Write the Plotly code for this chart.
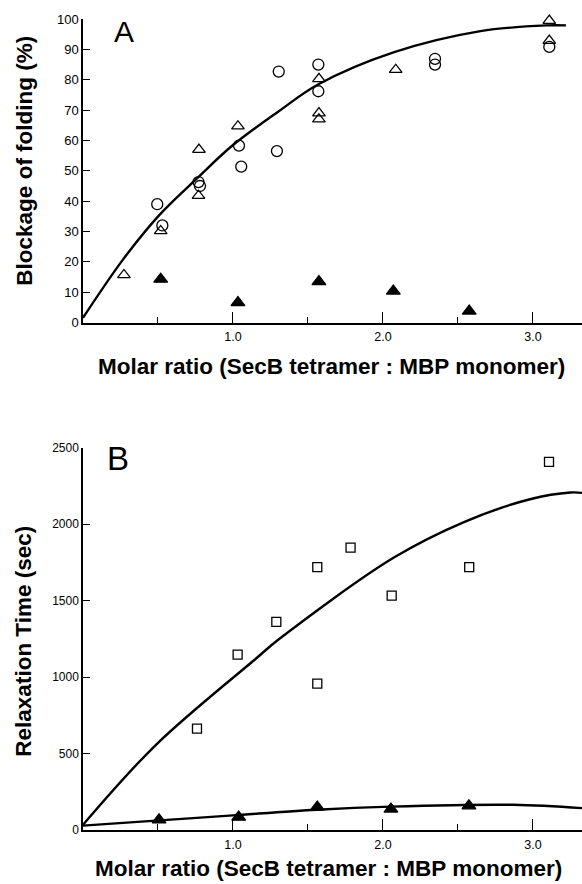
import plotly.graph_objects as go

# ---------------- data ----------------
# Panel A
a_circle_x = [0.495, 0.529, 0.77, 0.78, 1.04, 1.055, 1.293, 1.305, 1.569, 1.569, 2.347, 2.347, 3.109, 3.109]
a_circle_y = [39, 32, 46.3, 45, 58.3, 51.4, 56.5, 82.7, 85, 76.2, 86.9, 85, 101.5, 90.8]
a_tri_x = [0.273, 0.518, 0.77, 0.773, 1.033, 1.573, 1.573, 1.573, 2.085, 3.109, 3.109]
a_tri_y = [15.7, 30.2, 41.8, 57, 64.7, 80.3, 69, 67, 83.3, 92.9, 99.5]
a_filled_x = [0.518, 1.033, 1.573, 2.069, 2.575]
a_filled_y = [14.3, 6.6, 13.5, 10.4, 3.8]
a_fit_x = [0, 0.27, 0.51, 0.76, 1.0, 1.31, 1.57, 2.07, 2.65, 3.09, 3.22]
a_fit_y = [1.6, 21, 35.5, 47.5, 58.5, 69.8, 78.5, 89, 96, 97.9, 97.9]

# Panel B
b_square_x = [0.76, 1.031, 1.289, 1.562, 1.562, 1.784, 2.058, 2.575, 3.107]
b_square_y = [662, 1147, 1361, 1719, 957, 1846, 1533, 1719, 2407]
b_filled_x = [0.507, 1.038, 1.562, 2.053, 2.573]
b_filled_y = [66, 83, 149, 136, 157]
b_fit_hi_x = [0, 0.49, 1.15, 1.31, 2.07, 2.54, 2.98, 3.25, 3.327]
b_fit_hi_y = [33, 560, 1118, 1250, 1780, 2014, 2163, 2207, 2205]
b_fit_lo_x = [0, 0.51, 1.0, 1.56, 2.05, 2.87, 3.327]
b_fit_lo_y = [28, 62, 95, 132, 152, 164, 142]

x_tickvals = [1, 2, 3]
x_ticktext = ["1.0", "2.0", "3.0"]
a_y_tickvals = [0, 10, 20, 30, 40, 50, 60, 70, 80, 90, 100]
a_y_major = [0, 50, 100]
b_y_tickvals = [0, 500, 1000, 1500, 2000, 2500]
b_y_major = [1000, 2000]

x_title = "Molar ratio (SecB tetramer : MBP monomer)"
a_y_title = "Blockage of folding (%)"
b_y_title = "Relaxation Time (sec)"

# ---------------- figure ----------------
W, H = 582, 884
FONT = "Liberation Sans, Arial, Helvetica, sans-serif"
BLK = "black"

# vertical page position -> paper fraction (compensates the photo's vertical mapping)
def py(y_target):
    y_in = (y_target - 8.0) / 0.982
    return 1 - y_in / H

fig = go.Figure()

def mk(x, y, sym, size, xa, ya):
    return go.Scatter(
        x=x, y=y, mode="markers", xaxis=xa, yaxis=ya, cliponaxis=False,
        marker=dict(symbol=sym, size=size, color=BLK,
                    line=dict(color=BLK, width=1.3)),
        showlegend=False, hoverinfo="skip")

def ln(x, y, xa, ya):
    return go.Scatter(x=x, y=y, mode="lines", xaxis=xa, yaxis=ya, cliponaxis=False,
                      line=dict(color=BLK, width=2.4, shape="spline", smoothing=1.0),
                      showlegend=False, hoverinfo="skip")

# panel A
fig.add_trace(ln(a_fit_x, a_fit_y, "x", "y"))
fig.add_trace(mk(a_circle_x, a_circle_y, "circle-open", 11, "x", "y"))
fig.add_trace(mk(a_tri_x, a_tri_y, "triangle-up-open", 11, "x", "y"))
fig.add_trace(mk(a_filled_x, a_filled_y, "triangle-up", 12, "x", "y"))

# panel B
fig.add_trace(ln(b_fit_hi_x, b_fit_hi_y, "x2", "y2"))
fig.add_trace(ln(b_fit_lo_x, b_fit_lo_y, "x2", "y2"))
fig.add_trace(mk(b_square_x, b_square_y, "square-open", 9, "x2", "y2"))
fig.add_trace(mk(b_filled_x, b_filled_y, "triangle-up", 12, "x2", "y2"))

xdom = [83 / W, 1.0]
a_dom = [py(323.3), py(20)]
b_dom = [py(830), py(448.3)]

def xaxis(anchor):
    return dict(domain=xdom, range=[0, 3.327], anchor=anchor, showline=True,
                linecolor=BLK, linewidth=1.5, showgrid=False, zeroline=False,
                ticks="inside", ticklen=11, tickwidth=1.3, tickcolor=BLK,
                tickmode="array", tickvals=x_tickvals, ticktext=x_ticktext,
                ticklabelstandoff=2,
                tickfont=dict(family=FONT, size=12.5, color=BLK),
                minor=dict(ticks="inside", ticklen=6, tickwidth=1.3, tickcolor=BLK,
                           dtick=0.5, tick0=0, showgrid=False))

def yaxis(dom, rng, vals, anchor, size):
    return dict(domain=dom, range=rng, anchor=anchor, showline=True,
                linecolor=BLK, linewidth=1.5, showgrid=False, zeroline=False,
                ticks="inside", ticklen=7, tickwidth=1.3, tickcolor=BLK,
                tickmode="array", tickvals=vals, ticktext=[str(v) for v in vals],
                tickfont=dict(family=FONT, size=size, color=BLK))

def yover(base, rng, vals, anchor):
    return dict(overlaying=base, range=rng, anchor=anchor, showline=False,
                showgrid=False, zeroline=False, ticks="inside", ticklen=14,
                tickwidth=1.3, tickcolor=BLK, tickmode="array", tickvals=vals,
                showticklabels=False)

fig.update_layout(
    autosize=True, margin=dict(l=0, r=0, t=0, b=0),
    paper_bgcolor="white", plot_bgcolor="white",
    xaxis=xaxis("y"),
    yaxis=yaxis(a_dom, [0, 100], a_y_tickvals, "x", 13),
    xaxis2=xaxis("y2"),
    yaxis2=yaxis(b_dom, [0, 2500], b_y_tickvals, "x2", 12),
    yaxis3=yover("y", [0, 100], a_y_major, "x"),
    yaxis4=yover("y2", [0, 2500], b_y_major, "x2"),
)

tf = dict(family=FONT, size=22.5, color=BLK)
ann = [
    dict(text="<b>" + x_title + "</b>", x=331 / W, y=py(367)),
    dict(text="<b>" + x_title + "</b>", x=328 / W, y=py(869)),
    dict(text="<b>" + a_y_title + "</b>", x=25 / W, y=py(161.5), textangle=-90),
    dict(text="<b>" + b_y_title + "</b>", x=24 / W, y=py(642), textangle=-90),
]
for a in ann:
    fig.add_annotation(xref="paper", yref="paper", showarrow=False,
                       xanchor="center", yanchor="middle", font=tf, **a)

fig.add_annotation(xref="paper", yref="paper", showarrow=False, text="A",
                   x=124 / W, y=py(32.5), xanchor="center", yanchor="middle",
                   font=dict(family=FONT, size=30, color=BLK))
fig.add_annotation(xref="paper", yref="paper", showarrow=False, text="B",
                   x=118 / W, y=py(459.5), xanchor="center", yanchor="middle",
                   font=dict(family=FONT, size=33, color=BLK))

fig.write_html(
    "out.html",
    default_width="100vw", default_height="100vh",
    config={"displayModeBar": False, "responsive": True},
    post_script=(
        "document.documentElement.style.margin='0';"
        "document.body.style.margin='0';"
        "document.documentElement.style.overflow='hidden';"
        "document.body.style.overflow='hidden';"
        "Plotly.Plots.resize(document.getElementById('{plot_id}'));"
    ),
)
